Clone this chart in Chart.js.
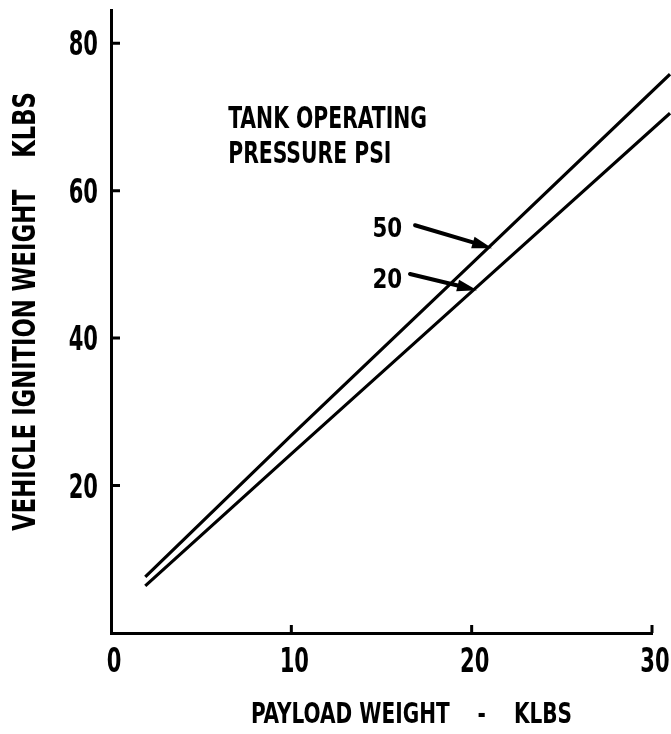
<!DOCTYPE html>
<html>
<head>
<meta charset="utf-8">
<script src="https://cdn.jsdelivr.net/npm/chart.js@4.4.0/dist/chart.umd.min.js"></script>
<style>
  html, body { margin: 0; padding: 0; background: #fff; }
  #wrap { width: 671px; height: 734px; }
</style>
</head>
<body>
<div id="wrap"><canvas id="weightChart"></canvas></div>
<script>
// values
const payload = [1.9, 10, 20, 31];
const psi50 = [7.6, 26.8, 50.1, 75.8];
const psi20 = [6.4, 24.3, 46.3, 70.5];
const xTicks = [0, 10, 20, 30];
const yTicks = [20, 40, 60, 80];
const xTitle = "PAYLOAD WEIGHT    -    KLBS";
const yTitle = "VEHICLE IGNITION WEIGHT    KLBS";

const FONT = "'DejaVu Sans Condensed', 'DejaVu Sans', sans-serif";
const CAP = 0.729; // cap height of the font, in em

//labels with arrows, placed in data units
const notes = [
  { text: "TANK OPERATING", x: 6.5, y: 68.5, size: 31, sx: 0.73 },
  { text: "PRESSURE PSI", x: 6.5, y: 63.7, size: 31, sx: 0.73 },
  { text: "50", x: 14.5, y: 53.7, size: 27, sx: 0.88, from: [16.86, 55.3], to: [21.13, 52.2] },
  { text: "20", x: 14.5, y: 46.8, size: 27, sx: 0.88, from: [16.58, 48.7], to: [20.3, 46.5] }
];

function toPoints(xs, ys) {
  return xs.map((x, i) => { return { x: x, y: ys[i] }; });
}

// the lettering on the original is tall and narrow, so squeeze it sideways
function narrowText(ctx, text, x, y, size, sx, align, angle) {
  ctx.save();
  ctx.translate(x, y);
  if (angle) ctx.rotate(angle);
  ctx.scale(sx, 1);
  ctx.font = "bold " + size + "px " + FONT;
  ctx.textAlign = align;
  ctx.textBaseline = "alphabetic";
  ctx.fillText(text, 0, size * CAP / 2);
  ctx.restore();
}

// short tick marks pointing into the plot, plus tick labels and titles
const axisMarks = {
  id: "axisMarks",
  afterDraw(chart) {
    const ctx = chart.ctx;
    const xs = chart.scales.x;
    const ys = chart.scales.y;
    ctx.save();
    ctx.strokeStyle = "#000";
    ctx.fillStyle = "#000";
    ctx.lineWidth = 3;
    ctx.beginPath();
    for (let i = 0; i < yTicks.length; i++) {
      const py = ys.getPixelForValue(yTicks[i]);
      ctx.moveTo(xs.left, py);
      ctx.lineTo(xs.left + 9, py);
    }
    for (let i = 1; i < xTicks.length; i++) {
      const px = xs.getPixelForValue(xTicks[i]);
      ctx.moveTo(px, ys.bottom);
      ctx.lineTo(px, ys.bottom - 8);
    }
    ctx.stroke();

    yTicks.forEach(v => {
      narrowText(ctx, String(v), xs.left - 13, ys.getPixelForValue(v), 33, 0.71, "right");
    });
    xTicks.forEach(v => {
      narrowText(ctx, String(v), xs.getPixelForValue(v) + 3, ys.bottom + 27, 33, 0.71, "center");
    });
    narrowText(ctx, xTitle, (xs.left + xs.right) / 2 + 30, ys.bottom + 79, 29, 0.77, "center");
    narrowText(ctx, yTitle, 24, (ys.top + ys.bottom) / 2 - 10, 31.5, 0.8, "center", -Math.PI / 2);
    ctx.restore();
  }
};

const labelNotes = {
  id: "labelNotes",
  afterDraw(chart) {
    const ctx = chart.ctx;
    const xs = chart.scales.x;
    const ys = chart.scales.y;
    ctx.save();
    ctx.fillStyle = "#000";
    ctx.strokeStyle = "#000";
    notes.forEach(n => {
      const tx = xs.getPixelForValue(n.x);
      const ty = ys.getPixelForValue(n.y) - n.size * CAP / 2;
      narrowText(ctx, n.text, tx, ty, n.size, n.sx, "left");
      if (n.from) {
        const x1 = xs.getPixelForValue(n.from[0]), y1 = ys.getPixelForValue(n.from[1]);
        const x2 = xs.getPixelForValue(n.to[0]), y2 = ys.getPixelForValue(n.to[1]);
        const a = Math.atan2(y2 - y1, x2 - x1);
        const hl = 20, hw = 6;
        const bx = x2 - hl * Math.cos(a), by = y2 - hl * Math.sin(a);
        ctx.lineWidth = 4;
        ctx.lineCap = "round";
        ctx.beginPath();
        ctx.moveTo(x1, y1);
        ctx.lineTo(bx, by);
        ctx.stroke();
        ctx.beginPath();
        ctx.moveTo(x2, y2);
        ctx.lineTo(bx + hw * Math.sin(a), by - hw * Math.cos(a));
        ctx.lineTo(bx - hw * Math.sin(a), by + hw * Math.cos(a));
        ctx.closePath();
        ctx.fill();
      }
    });
    ctx.restore();
  }
};

const ctx = document.getElementById("weightChart");

new Chart(ctx, {
  type: "scatter",
  data: {
    datasets: [
      {
        label: "50 PSI",
        data: toPoints(payload, psi50),
        showLine: true,
        borderColor: "#000",
        borderWidth: 3.2,
        pointRadius: 0,
        clip: false
      },
      {
        label: "20 PSI",
        data: toPoints(payload, psi20),
        showLine: true,
        borderColor: "#000",
        borderWidth: 3.2,
        pointRadius: 0,
        clip: false
      }
    ]
  },
  options: {
    responsive: true,
    maintainAspectRatio: false,
    animation: false,
    layout: { padding: { top: 10, right: 19, left: 0, bottom: 0 } },
    plugins: {
      legend: { display: false },
      tooltip: { enabled: false }
    },
    scales: {
      x: {
        type: "linear",
        min: 0,
        max: 30,
        afterBuildTicks: s => { s.ticks = xTicks.map(v => { return { value: v }; }); },
        afterFit: s => { s.height = 101; s.paddingLeft = 0; s.paddingRight = 0; },
        grid: { drawOnChartArea: false, drawTicks: false },
        border: { display: true, color: "#000", width: 3 },
        ticks: { display: false }
      },
      y: {
        min: 0,
        max: 84.5,
        afterBuildTicks: s => { s.ticks = yTicks.map(v => { return { value: v }; }); },
        afterFit: s => { s.width = 111; s.paddingTop = 0; s.paddingBottom = 0; },
        grid: { drawOnChartArea: false, drawTicks: false },
        border: { display: true, color: "#000", width: 3 },
        ticks: { display: false }
      }
    }
  },
  plugins: [axisMarks, labelNotes]
});
</script>
</body>
</html>
